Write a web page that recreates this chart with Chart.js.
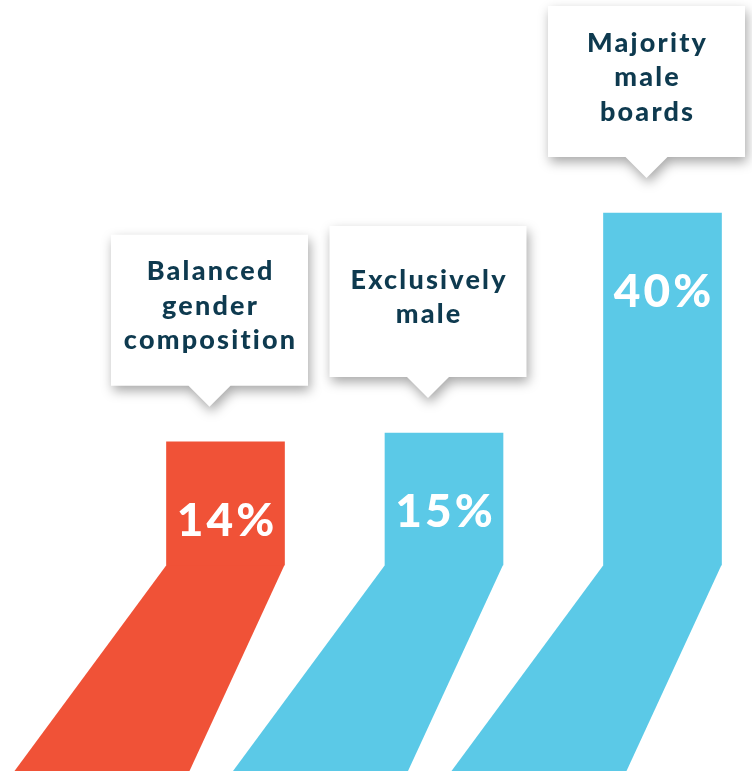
<!DOCTYPE html>
<html>
<head>
<meta charset="utf-8">
<script src="https://cdn.jsdelivr.net/npm/chart.js@4/dist/chart.umd.min.js"></script>
<style>
  html, body { margin: 0; padding: 0; background: #fff; }
  #wrap { width: 752px; height: 774px; }
</style>
</head>
<body>
<div id="wrap"><canvas id="boards-chart"></canvas></div>
<script>
var categories = [
  ['Balanced', 'gender', 'composition'],
  ['Exclusively', 'male'],
  ['Majority', 'male', 'boards']
];
var shares = [14, 15, 40];
var barColors = ['#F05237', '#5BC9E7', '#5BC9E7'];

var navy = '#0E3A4F';
var font = 'Lato, "Open Sans", sans-serif';

// slanted "leg" under each bar
var legsPlugin = {
  id: 'legs',
  beforeDatasetsDraw: function (chart) {
    var ctx = chart.ctx;
    var meta = chart.getDatasetMeta(0);
    var bottom = chart.height - 3;
    ctx.save();
    meta.data.forEach(function (bar, i) {
      var l = bar.x - bar.width / 2, r = bar.x + bar.width / 2;
      ctx.fillStyle = barColors[i];
      ctx.beginPath();
      ctx.moveTo(l, bar.base);
      ctx.lineTo(r, bar.base);
      ctx.lineTo(r - 95, bottom);
      ctx.lineTo(l - 152, bottom);
      ctx.closePath();
      ctx.fill();
    });
    ctx.restore();
  }
};

// callout boxes above the bars + value labels inside
var calloutPlugin = {
  id: 'callouts',
  afterDatasetsDraw: function (chart) {
    var ctx = chart.ctx;
    var meta = chart.getDatasetMeta(0);
    meta.data.forEach(function (bar, i) {
      var cx = bar.x - 16;
      var w = 197, h = 151;
      var bottom = bar.y - 56;
      var top = bottom - h;
      var left = cx - w / 2;

      ctx.save();
      ctx.shadowColor = 'rgba(0,0,0,0.35)';
      ctx.shadowBlur = 12;
      ctx.shadowOffsetX = 2;
      ctx.shadowOffsetY = 5;
      ctx.fillStyle = '#fff';
      ctx.beginPath();
      ctx.moveTo(left, top);
      ctx.lineTo(left + w, top);
      ctx.lineTo(left + w, bottom);
      ctx.lineTo(cx + 21, bottom);
      ctx.lineTo(cx, bottom + 21);
      ctx.lineTo(cx - 21, bottom);
      ctx.lineTo(left, bottom);
      ctx.closePath();
      ctx.fill();
      ctx.restore();

      var lines = chart.data.labels[i];
      var lh = 34.5;
      var y0 = top + h / 2 - 4 - (lines.length - 1) * lh / 2;
      ctx.save();
      ctx.fillStyle = navy;
      ctx.font = '900 27px ' + font;
      ctx.letterSpacing = '2.2px';
      ctx.textAlign = 'center';
      ctx.textBaseline = 'middle';
      lines.forEach(function (t, k) {
        ctx.fillText(t, cx + 1.1, y0 + k * lh);
      });

      ctx.fillStyle = '#fff';
      ctx.font = '900 46px ' + font;
      ctx.letterSpacing = '3px';
      ctx.fillText(shares[i] + '%', bar.x + 1.5, bar.y + 79);
      ctx.restore();
    });
  }
};

var boardsChart = new Chart(document.getElementById('boards-chart'), {
  type: 'bar',
  data: {
    labels: categories,
    datasets: [{
      data: shares,
      backgroundColor: barColors,
      borderWidth: 0,
      barThickness: 118,
      clip: false
    }]
  },
  options: {
    responsive: true,
    maintainAspectRatio: false,
    animation: false,
    layout: {
      padding: { left: 225.5, right: 89.5, top: 0, bottom: 209 }
    },
    plugins: {
      legend: { display: false },
      tooltip: { enabled: false }
    },
    scales: {
      x: { display: false, offset: false },
      y: { display: false, min: 0, max: 64.2 }
    }
  },
  plugins: [legsPlugin, calloutPlugin]
});
</script>
</body>
</html>
